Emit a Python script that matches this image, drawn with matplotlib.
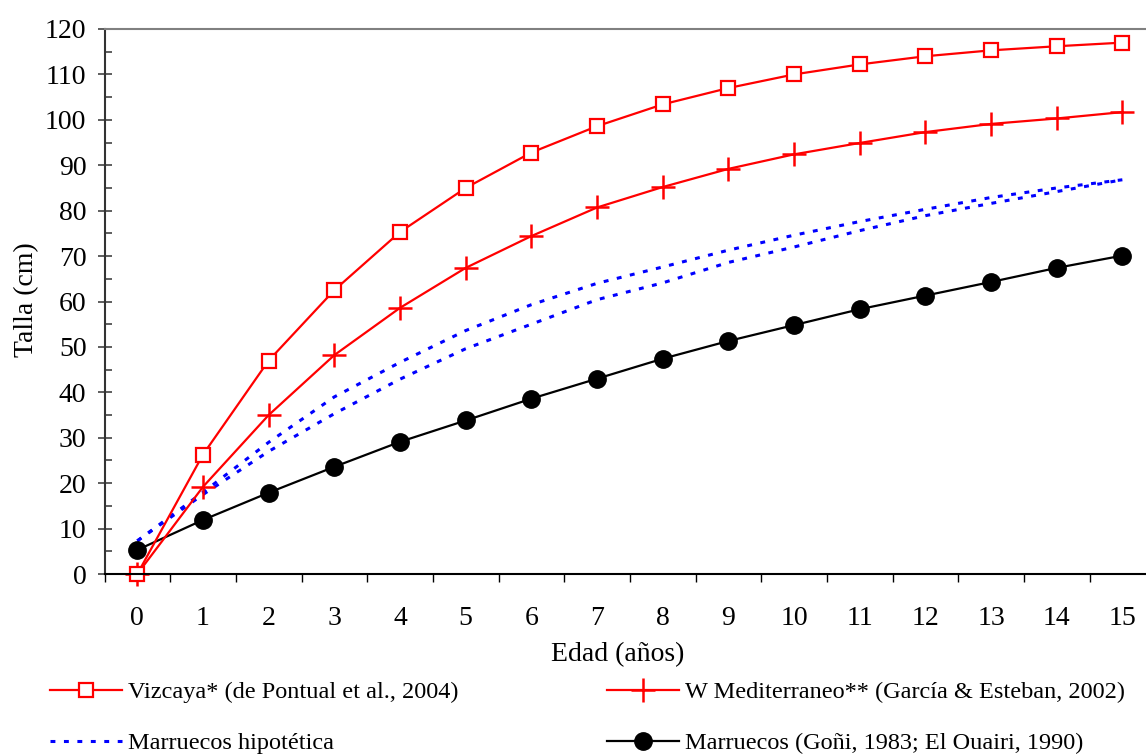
import numpy as np
import matplotlib
matplotlib.use('Agg')
import matplotlib.pyplot as plt
from matplotlib.ticker import MultipleLocator, FixedLocator

plt.rcParams['font.family'] = ['Liberation Serif', 'DejaVu Serif']

edad = list(range(16))
edad_labels = [str(e) for e in edad]

vizcaya = [0, 26.3, 47, 62.5, 75.3, 85, 92.8, 98.6, 103.4, 107, 110, 112.2, 114, 115.3, 116.2, 117]
w_mediterraneo = [0, 19.2, 35, 48.2, 58.6, 67.4, 74.4, 80.7, 85.2, 89.2, 92.4, 94.9, 97.3, 99.1, 100.3, 101.7]
marruecos = [5.3, 11.9, 17.9, 23.6, 29.1, 33.8, 38.6, 43, 47.4, 51.3, 54.8, 58.3, 61.3, 64.3, 67.4, 70.1]
hipotetica_max = [7.3, 18, 29, 39, 46.6, 53.6, 59.3, 64, 67.6, 71.3, 74.6, 77.6, 80.3, 82.9, 85, 86.8]
hipotetica_min = [7.3, 17.5, 27, 35.3, 42.9, 49.6, 55, 60.4, 64.1, 68.6, 72, 75.6, 78.9, 81.6, 84.2, 86.8]

labels = ['Vizcaya* (de Pontual et al., 2004)',
          'W Mediterraneo** (García & Esteban, 2002)',
          'Marruecos hipotética',
          'Marruecos (Goñi, 1983; El Ouairi, 1990)']

W, H = 1146, 756
fig = plt.figure(figsize=(W / 100, H / 100), dpi=100)
ax = fig.add_axes([104.5 / W, 1 - 574 / H, 1050.7 / W, 545 / H])

dots = (0, (1.6, 2.8))
h_hip, = ax.plot(edad, hipotetica_max, color='#0000ff', lw=2.2, ls=dots)
ax.plot(edad, hipotetica_min, color='#0000ff', lw=2.2, ls=dots)

h_mar, = ax.plot(edad, marruecos, color='black', lw=1.6, marker='o', ms=12.5,
                 mfc='black', mec='black', clip_on=False)
h_wm, = ax.plot(edad, w_mediterraneo, color='#ff0000', lw=1.6, marker='+', ms=17,
                mew=1.8, clip_on=False)
h_viz, = ax.plot(edad, vizcaya, color='#ff0000', lw=1.6, marker='s', ms=9.5,
                 mfc='white', mec='#ff0000', mew=1.6, clip_on=False)

ax.set_xlim(-0.5, 15.5)
ax.set_ylim(0, 120)

ax.xaxis.set_major_locator(FixedLocator(edad))
ax.set_xticklabels(edad_labels)
ax.xaxis.set_minor_locator(FixedLocator(np.arange(-0.5, 15.5, 1)))
ax.tick_params(axis='x', which='major', length=0, pad=23, labelsize=20)
ax.tick_params(axis='x', which='minor', length=6, width=1.0, direction='out')

ax.yaxis.set_major_locator(MultipleLocator(10))
ax.yaxis.set_minor_locator(MultipleLocator(5))
ax.tick_params(axis='y', which='major', length=10, width=1.1, direction='inout',
               pad=8, labelsize=20, color='#333333')
ax.tick_params(axis='y', which='minor', length=5, width=1.1, direction='in',
               color='#333333')

ax.spines['right'].set_visible(False)
ax.spines['top'].set_color('#808080')
ax.spines['top'].set_linewidth(1.5)
ax.spines['left'].set_color('#333333')
ax.spines['left'].set_linewidth(1.5)
ax.spines['bottom'].set_linewidth(1.5)

ax.set_xlabel('Edad (años)', fontsize=20)
ax.xaxis.set_label_coords(0.488, -0.125)
ax.set_ylabel('Talla (cm)', fontsize=20)
ax.yaxis.set_label_coords(-0.062, 0.503)

leg_style = dict(frameon=False, fontsize=17.5, handlelength=2.95, handletextpad=0.25,
                 labelspacing=1.2, borderpad=0, borderaxespad=0, numpoints=1)
leg1 = fig.legend([h_viz, h_hip], [labels[0], labels[2]], loc='upper left',
                  bbox_to_anchor=(50 / W, 1 - 681 / H), **leg_style)
leg2 = fig.legend([h_wm, h_mar], [labels[1], labels[3]], loc='upper left',
                  bbox_to_anchor=(607 / W, 1 - 681 / H), **leg_style)

fig.savefig('out.png', dpi=100)
